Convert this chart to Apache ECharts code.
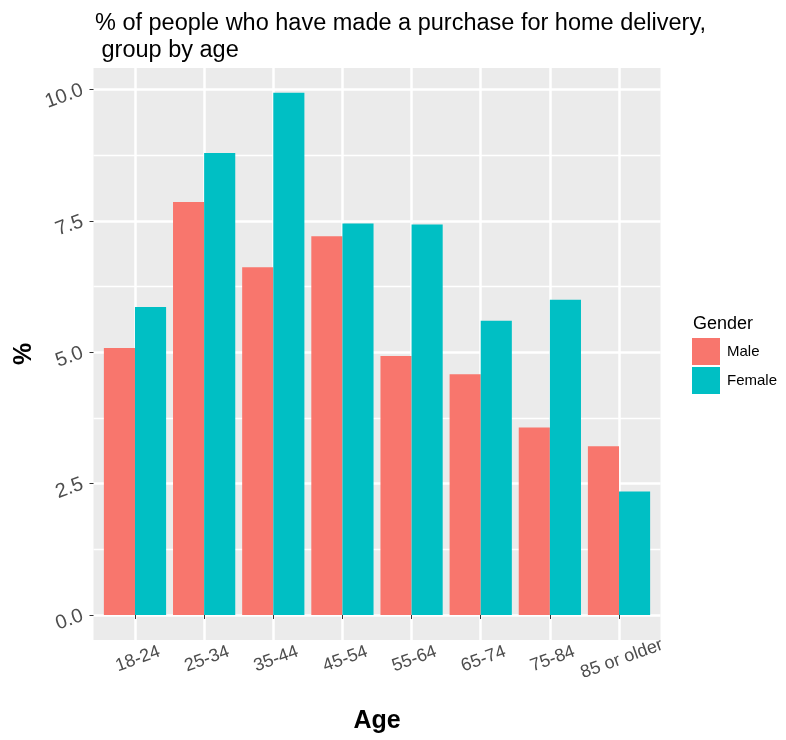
<!DOCTYPE html>
<html>
<head>
<meta charset="utf-8">
<script src="https://cdn.jsdelivr.net/npm/echarts@6/dist/echarts.min.js"></script>
<style>html,body{margin:0;padding:0;background:#fff}#c{width:786px;height:740px}</style>
</head>
<body>
<div id="c"></div>
<script>
const categories = ['18-24','25-34','35-44','45-54','55-64','65-74','75-84','85 or older'];
const male   = [5.08, 7.86, 6.62, 7.21, 4.93, 4.58, 3.57, 3.21];
const female = [5.86, 8.79, 9.94, 7.45, 7.43, 5.60, 6.00, 2.35];
const yMajorTicks = [0, 2.5, 5, 7.5, 10];
const yMinorTicks = [1.25, 3.75, 6.25, 8.75];
const seriesNames = ['Male', 'Female'];

const FONT = 'Liberation Sans, Arial, sans-serif';
const xPos = categories.map((c, i) => i + 1);
const chart = echarts.init(document.getElementById('c'), null, {renderer: 'canvas'});
chart.setOption({
  animation: false,
  backgroundColor: '#ffffff',
  title: [
    {text: '% of people who have made a purchase for home delivery,\n group by age', left: 95, top: 10, padding: 0,
     textStyle: {fontFamily: FONT, fontSize: 23.5, fontWeight: 'normal', color: '#000', lineHeight: 27}},
    {text: 'Gender', left: 693, top: 315, padding: 0,
     textStyle: {fontFamily: FONT, fontSize: 18, fontWeight: 'normal', color: '#000'}}
  ],
  legend: {
    orient: 'vertical', left: 692, top: 338, itemWidth: 28, itemHeight: 27, itemGap: 2, padding: 0,
    icon: 'rect', data: seriesNames,
    textStyle: {fontFamily: FONT, fontSize: 15, color: '#000', padding: [0,0,0,2]}
  },
  grid: {left: 93.5, right: 125.5, top: 68, bottom: 100, show: true, backgroundColor: '#EBEBEB', borderWidth: 0,
         containLabel: false, outerBoundsMode: 'none'},
  xAxis: {
    type: 'value', min: 0.4, max: 8.6,
    name: 'Age', nameLocation: 'middle', nameGap: 69,
    nameTextStyle: {fontFamily: FONT, fontSize: 25, fontWeight: 'bold', color: '#000'},
    axisLine: {show: false},
    axisTick: {show: true, customValues: xPos, length: 4, lineStyle: {color: '#333', width: 1}},
    axisLabel: {customValues: xPos, formatter: v => categories[Math.round(v) - 1], rotate: 20, align: 'center', verticalAlign: 'middle',
      margin: 20, padding: [0, 0, 0, 6], fontFamily: FONT, fontSize: 18, color: '#4D4D4D', hideOverlap: false},
    splitLine: {show: true, lineStyle: {color: '#fff', width: 2.5}}
  },
  yAxis: [
    {
      type: 'value', min: -0.476, max: 10.41,
      name: '%', nameLocation: 'middle', nameGap: 57, nameRotate: 90, nameMoveOverlap: false,
      nameTextStyle: {fontFamily: FONT, fontSize: 25, fontWeight: 'bold', color: '#000'},
      axisLine: {show: false},
      axisTick: {show: true, customValues: yMajorTicks, length: 4, lineStyle: {color: '#333', width: 1}},
      axisLabel: {customValues: yMajorTicks, formatter: v => v.toFixed(1), rotate: 20, margin: 11,
        fontFamily: FONT, fontSize: 20, color: '#4D4D4D'},
      splitLine: {show: true, lineStyle: {color: '#fff', width: 2.5}}
    },
    {
      type: 'value', min: -0.476, max: 10.41, position: 'left',
      axisLine: {show: false},
      axisTick: {show: false, customValues: yMinorTicks},
      axisLabel: {show: false, customValues: yMinorTicks},
      splitLine: {show: true, lineStyle: {color: '#fff', width: 1.3}}
    }
  ],
  series: [
    {name: seriesNames[0], type: 'bar', yAxisIndex: 0, data: male.map((v, i) => [xPos[i], v]),
     barWidth: '45%', barGap: '0%', itemStyle: {color: '#F8766D'}, z: 3},
    {name: seriesNames[1], type: 'bar', yAxisIndex: 0, data: female.map((v, i) => [xPos[i], v]),
     barWidth: '45%', barGap: '0%', itemStyle: {color: '#00BFC4'}, z: 3}
  ]
});
</script>
</body>
</html>
